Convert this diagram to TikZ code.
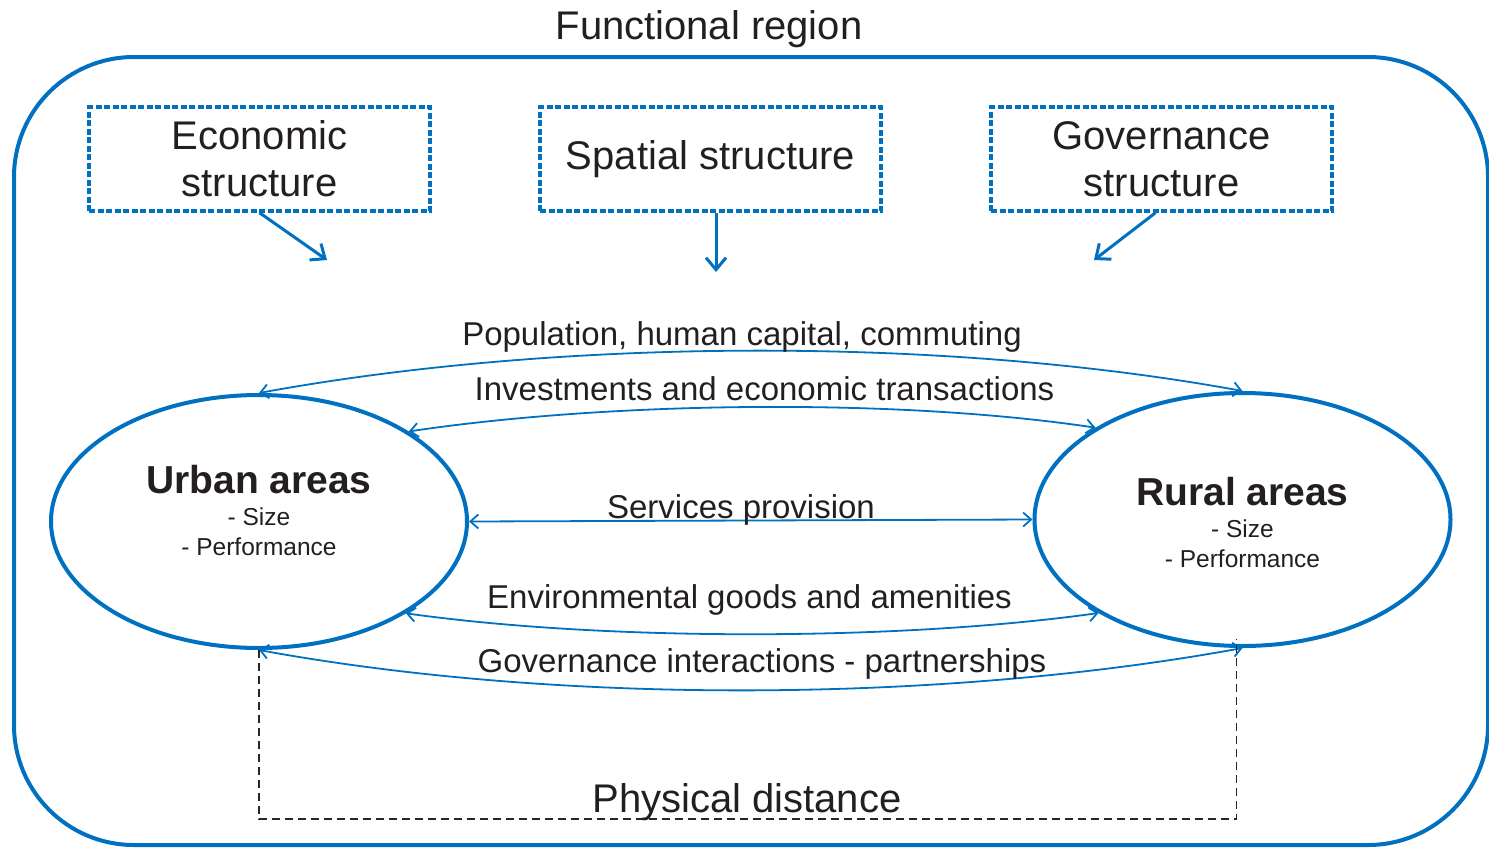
\documentclass[tikz,border=0pt]{standalone}
\usepackage{fontspec}
\setmainfont{Liberation Sans}
\usetikzlibrary{arrows.meta,shapes.geometric}
\definecolor{frameblue}{RGB}{0,112,192}
\definecolor{inkgray}{RGB}{35,31,32}
\tikzset{
    frame/.style={draw=frameblue, line width=4pt, rounded corners=120pt},
    structbox/.style={draw=frameblue, line width=3.5pt, dash pattern=on 6pt off 2.5pt,
        minimum width=341pt, minimum height=104pt, inner sep=0pt, align=center,
        text=inkgray, font=\fontsize{40}{47}\selectfont},
    area/.style={ellipse, draw=frameblue, line width=4pt, minimum width=416pt,
        minimum height=253pt, inner sep=0pt},
    areatext/.style={align=center, inner sep=0pt, text=inkgray,
        font=\fontsize{24.5}{30}\selectfont},
    bigarrow/.style={draw=frameblue, line width=3pt, -{Straight Barb[length=12pt,width=20pt]}},
    flow/.style={draw=frameblue, line width=1.8pt,
        {Straight Barb[length=8pt,width=14pt]}-{Straight Barb[length=8pt,width=14pt]}},
    lbl/.style={anchor=base, text=inkgray, font=\fontsize{33}{40}\selectfont},
    distline/.style={draw=black!85, line width=1.8pt, dash pattern=on 8pt off 5pt}
}
\begin{document}
\begin{tikzpicture}[x=1pt,y=-1pt]
            \useasboundingbox (0,0) rectangle (1489,847);
            \draw[frame] (14,57) rectangle (1488,845);
            \draw (709,39) node[lbl, font=\fontsize{40}{47}\selectfont] (title) {Functional region};

            \node[structbox] (econ) at (259.5,159) {Economic\\structure};
            \node[structbox] (spatial) at (710.5,159) {Spatial structure};
            \node[structbox] (gov) at (1161.5,159) {Governance\\structure};

            \coordinate (econ tip) at (327,260);
            \coordinate (spat tip) at (716,272);
            \coordinate (gov tip) at (1094,260);
            \draw[bigarrow] (econ.south) -- (econ tip);
            \draw[bigarrow] (spatial.south -| spat tip) -- (spat tip);
            \draw[bigarrow] ([xshift=-6pt]gov.south) -- (gov tip);

            \node[area] (urban) at (259,521.5) {};
            \node[area] (rural) at (1242.5,519.5) {};
            \node[areatext] (urban text) at ([yshift=11pt]urban.center) {{\fontsize{39}{47}\selectfont\bfseries Urban areas}\\[2pt]- Size\\- Performance};
            \node[areatext] (rural text) at ([yshift=-3pt]rural.center) {{\fontsize{39}{47}\selectfont\bfseries Rural areas}\\[2pt]- Size\\- Performance};

            \draw[flow] (urban.north) .. controls +(300,-55) and +(-300,-55) .. (rural.north);
            \draw[flow] (urban.31) .. controls +(200,-30) and +(-200,-30) .. (rural.148);
            \draw[flow] (urban.east) -- (rural.west);
            \draw[flow] (urban.-32) .. controls +(200,28) and +(-200,28) .. (rural.213);
            \draw[flow] (urban.south) .. controls +(300,55) and +(-300,55) .. (rural.south);

            \foreach \n/\x/\y/\txt in {pop/742/345/{Population, human capital, commuting},
                    inv/764.5/400/{Investments and economic transactions},
                    serv/741/518/{Services provision},
                    env/749.5/608/{Environmental goods and amenities},
                    govint/762/672/{Governance interactions - partnerships}}
                {\draw (\x,\y) node[lbl] (\n) {\txt};}

            \draw[distline] (urban.south) -- ++(0,169) -| ([xshift=-6pt,yshift=9pt]rural.south);
            \draw (747,812) node[lbl, font=\fontsize{40}{47}\selectfont] (dist) {Physical distance};
\end{tikzpicture}
\end{document}
